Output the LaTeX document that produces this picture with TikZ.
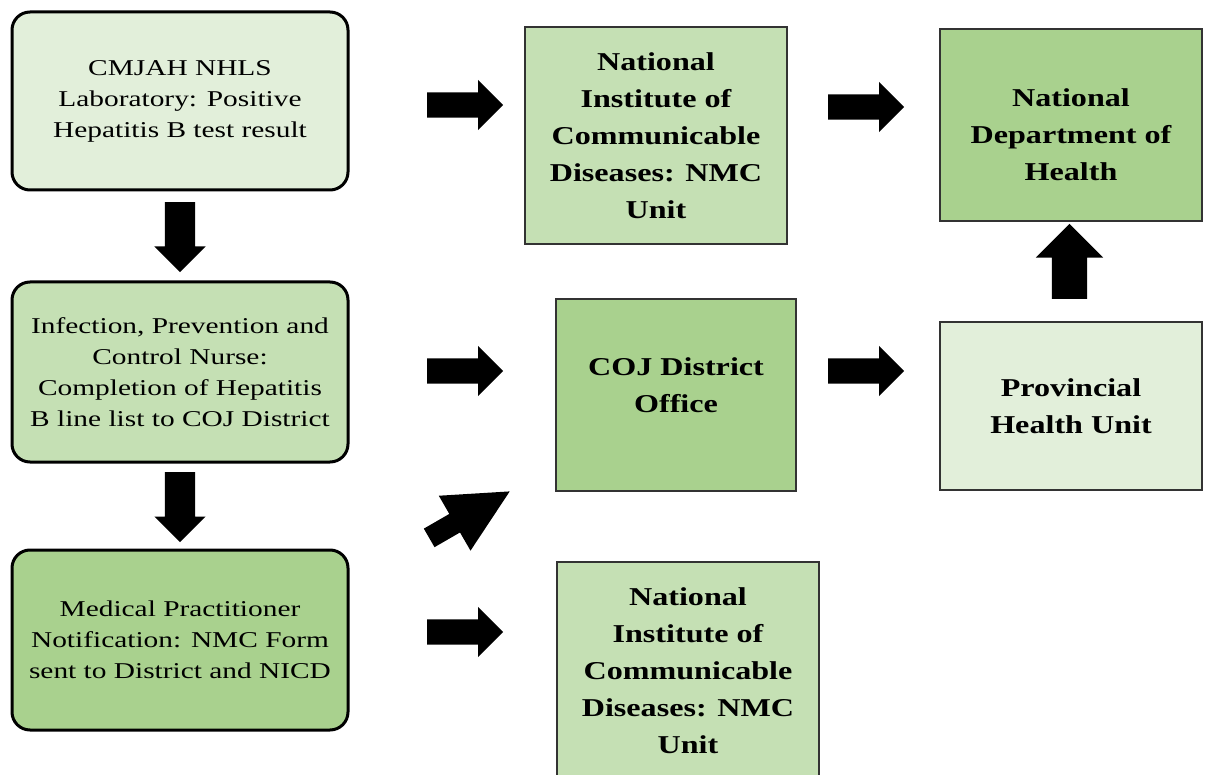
\documentclass[tikz,border=0pt]{standalone}
\usepackage{fontspec}
\setmainfont{Liberation Serif}[FakeStretch=1.3, BoldFeatures={FakeStretch=1.25}]
\usetikzlibrary{shapes.arrows}

\definecolor{lightgreen}{HTML}{E2EFDA}
\definecolor{midgreen}{HTML}{C5E0B4}
\definecolor{darkgreen}{HTML}{A9D18E}

\begin{document}
\begin{tikzpicture}[x=1pt, y=-1pt,
    stepbox/.style={draw=black, line width=3pt, rounded corners=18pt,
        minimum width=336pt, minimum height=178pt, align=center,
        font=\fontsize{22.6}{31}\selectfont},
    unitbox/.style={draw=black!80, line width=1.2pt, align=center,
        minimum width=262pt, font=\fontsize{25.7}{37}\selectfont\bfseries},
    blockarrow/.style={single arrow, fill=black, anchor=tail, inner xsep=0pt, inner ysep=12.5pt,
        minimum height=76pt, single arrow head extend=12.5pt}]
    % Page frame
    \clip (0,0) rectangle (1209,775);

    % Left column (hospital steps)
    \node[stepbox, fill=lightgreen] (lab) at (180,101)
        {CMJAH NHLS\\Laboratory: Positive\\Hepatitis B test result};
    \node[stepbox, fill=midgreen, minimum height=180pt] (ipc) at (180,372)
        {Infection, Prevention and\\Control Nurse:\\Completion of Hepatitis\\B line list to COJ District};
    \node[stepbox, fill=darkgreen, minimum height=180pt] (doctor) at (180,640)
        {Medical Practitioner\\Notification: NMC Form\\sent to District and NICD};

    % Receiving units
    \node[unitbox, fill=midgreen, minimum height=217pt] (nicdtop) at (656,135.5)
        {National\\Institute of\\Communicable\\Diseases: NMC\\Unit};
    \node[unitbox, fill=darkgreen, minimum height=192pt, text height=111pt] (ndoh) at (1071,125)
        {National\\Department of\\Health};
    \node[unitbox, fill=darkgreen, minimum width=240pt, minimum height=192pt, text depth=20pt] (coj) at (676,395)
        {COJ District\\Office};
    \node[unitbox, fill=lightgreen, minimum height=168pt] (province) at (1071,406)
        {Provincial\\Health Unit};
    \node[unitbox, fill=midgreen, minimum height=217pt] (nicdbottom) at (688,670.5)
        {National\\Institute of\\Communicable\\Diseases: NMC\\Unit};

    % Block arrows, right (placed by their tails)
    \node[blockarrow] (r1) at (427,105) {};
    \node[blockarrow] (r2) at (828,107) {};
    \node[blockarrow] (r3) at (427,371) {};
    \node[blockarrow] (r4) at (828,371) {};
    \node[blockarrow] (r5) at (427,632) {};

    % Block arrows, down and up
    \node[blockarrow, rotate=-90, inner ysep=15pt, minimum height=70pt, single arrow head extend=10.5pt] (d1) at (180,202) {};
    \node[blockarrow, rotate=-90, inner ysep=15pt, minimum height=70pt, single arrow head extend=10.5pt] (d2) at (180,472) {};
    \node[blockarrow, rotate=90, inner ysep=17.5pt, minimum height=75pt, single arrow head extend=16pt] (u1) at (1069.5,299) {};

    % Slanted arrow to district office
    \node[blockarrow, rotate=30, inner ysep=10.5pt, minimum height=93pt,
        single arrow head extend=21pt, single arrow tip angle=53] (diag) at (429,538) {};
\end{tikzpicture}
\end{document}
